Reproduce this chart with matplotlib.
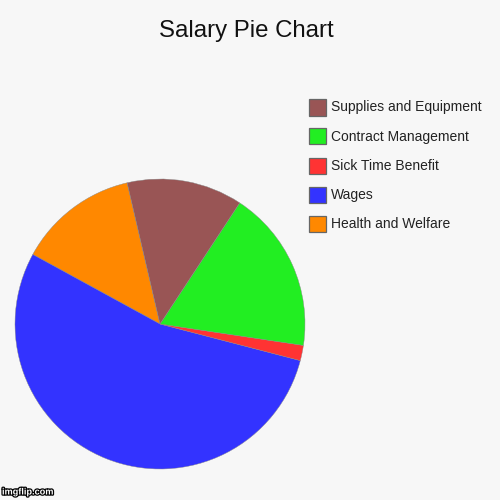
import matplotlib
matplotlib.use("Agg")
import matplotlib.pyplot as plt
from matplotlib.patches import Rectangle
import matplotlib.patheffects as pe

categories = ["Health and Welfare", "Wages", "Sick Time Benefit",
              "Contract Management", "Supplies and Equipment"]
values = [13.4, 53.9, 1.7, 18.1, 12.9]
colors = ["#FF8800", "#3333FF", "#FF3333", "#22EE22", "#995555"]

plt.rcParams['font.family'] = ['Liberation Sans', 'DejaVu Sans']
bg = "#F7F7F7"
W = H = 500
fig = plt.figure(figsize=(5, 5), dpi=100, facecolor=bg)

ax = fig.add_axes([15/W, 31/H, 290/W, 290/H])
ax.set_facecolor(bg)
ax.pie(values, colors=colors, startangle=103.1, counterclock=True,
       radius=1.0, wedgeprops=dict(linewidth=0.3, edgecolor="#888888"))
ax.set_xlim(-1.0, 1.0)
ax.set_ylim(-1.0, 1.0)
ax.set_aspect('equal')
ax.axis('off')

fig.text(246/W, 1 - 31/H, "Salary Pie Chart", ha='center', va='center',
         fontsize=17.3, color='#111111')

# legend (reversed order), drawn in figure pixel coordinates
row0, step = 107.5, 29.0
for i, (lab, col) in enumerate(zip(categories[::-1], colors[::-1])):
    yc = row0 + i * step
    fig.patches.append(Rectangle((309/W, 1 - (yc + 8)/H), 17/W, 16/H,
                                 transform=fig.transFigure, facecolor=col,
                                 edgecolor='#666666', linewidth=0.9))
    fig.text(331/W, 1 - yc/H, lab, ha='left', va='center',
             fontsize=10.0, color='#222222')

fig.text(2/W, 8/H, "imgflip.com", ha='left', va='center', fontsize=6.6,
         color='white', fontweight='bold',
         path_effects=[pe.withStroke(linewidth=1.8, foreground='black')])

fig.savefig("out.png", dpi=100, facecolor=bg)
